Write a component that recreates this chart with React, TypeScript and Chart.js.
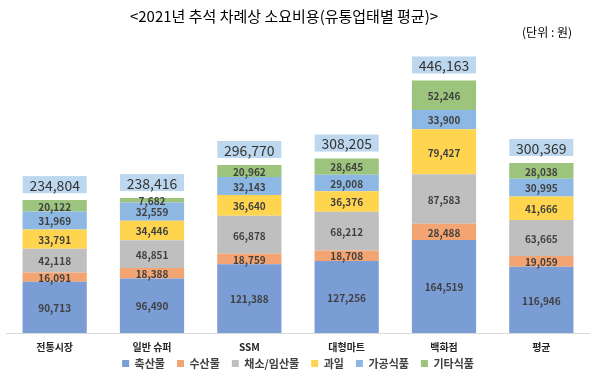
import React, { useEffect, useRef } from "react";
import { Chart, registerables } from "chart.js";

Chart.register(...registerables);

const categories = ["전통시장", "일반 슈퍼", "SSM", "대형마트", "백화점", "평균"];
const seriesNames = ["축산물", "수산물", "채소/임산물", "과일", "가공식품", "기타식품"];
const livestock = [90713, 96490, 121388, 127256, 164519, 116946];
const seafood = [16091, 18388, 18759, 18708, 28488, 19059];
const vegetables = [42118, 48851, 66878, 68212, 87583, 63665];
const fruit = [33791, 34446, 36640, 36376, 79427, 41666];
const processed = [31969, 32559, 32143, 29008, 33900, 30995];
const others = [20122, 7682, 20962, 28645, 52246, 28038];
const totals = [234804, 238416, 296770, 308205, 446163, 300369];
const colors = ["#7A9DD6", "#F2A472", "#BFBFBF", "#FFD44F", "#8EB8E4", "#9CC47C"];

const FONT = "'Noto Sans CJK KR', 'Malgun Gothic', sans-serif";

const fmt = (v: number) => v.toLocaleString("en-US");

const overlayPlugin = {
  id: "overlay",
  afterDatasetsDraw(chart: any) {
    const ctx = chart.ctx as CanvasRenderingContext2D;
    ctx.save();
    chart.data.datasets.forEach((ds: any, di: number) => {
      const meta = chart.getDatasetMeta(di);
      meta.data.forEach((bar: any, i: number) => {
        const v = ds.data[i];
        const yc = (bar.y + bar.base) / 2;
        ctx.font = `bold 10px ${FONT}`;
        ctx.fillStyle = "#404040";
        ctx.textAlign = "center";
        ctx.textBaseline = "middle";
        ctx.fillText(fmt(v), bar.x, yc + 1);
      });
    });
    const lastMeta = chart.getDatasetMeta(chart.data.datasets.length - 1);
    lastMeta.data.forEach((bar: any, i: number) => {
      const w = 64;
      const h = 17;
      const x = bar.x - w / 2;
      const y = bar.y - 24;
      ctx.fillStyle = "#BDD7EE";
      ctx.fillRect(x, y, w, h);
      ctx.font = `14px ${FONT}`;
      ctx.fillStyle = "#333333";
      ctx.textAlign = "center";
      ctx.textBaseline = "middle";
      ctx.fillText(fmt(totals[i]), bar.x, y + h / 2 + 1);
    });
    ctx.font = `15px ${FONT}`;
    ctx.fillStyle = "#000000";
    ctx.textAlign = "center";
    ctx.textBaseline = "middle";
    ctx.fillText("<2021년 추석 차례상 소요비용(유통업태별 평균)>", 284, 16);
    ctx.font = `12px ${FONT}`;
    ctx.textAlign = "right";
    ctx.fillText("(단위 : 원)", 572, 32);
    ctx.restore();
  },
};

export default function App() {
  const ref = useRef<HTMLCanvasElement>(null);
  useEffect(() => {
    document.body.style.margin = "0";
    const series = [livestock, seafood, vegetables, fruit, processed, others];
    const chart = new Chart(ref.current!, {
      type: "bar",
      data: {
        labels: categories,
        datasets: series.map((d, i) => ({
          label: seriesNames[i],
          data: d,
          backgroundColor: colors[i],
          borderWidth: 0,
          barPercentage: 0.66,
          categoryPercentage: 1,
        })),
      },
      options: {
        responsive: false,
        animation: false,
        layout: { padding: { top: 50, left: 6, right: 0, bottom: 8 } },
        plugins: {
          legend: {
            position: "bottom",
            labels: {
              boxWidth: 7,
              boxHeight: 7,
              padding: 12,
              color: "#404040",
              font: { family: FONT, size: 11, weight: "bold" },
            },
          },
          tooltip: { enabled: false },
          title: { display: false },
        },
        scales: {
          x: {
            stacked: true,
            grid: { display: false },
            border: { color: "#D9D9D9" },
            afterFit: (scale: any) => {
              scale.height = scale.height - 7;
              scale._computeLabelArea = () => undefined;
            },
            ticks: {
              color: "#262626",
              padding: 0,
              font: { family: FONT, size: 10, weight: "bold" },
            },
          },
          y: {
            stacked: true,
            display: false,
            min: 0,
            max: 500000,
          },
        },
      },
      plugins: [overlayPlugin],
    });
    return () => chart.destroy();
  }, []);
  return <canvas ref={ref} width={590} height={387} style={{ display: "block" }} />;
}
